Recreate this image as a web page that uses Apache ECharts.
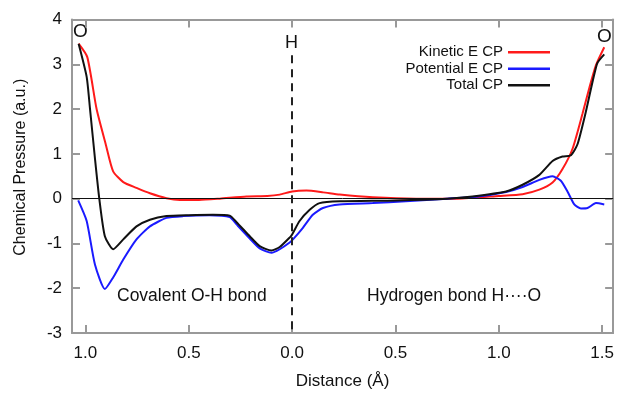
<!DOCTYPE html>
<html>
<head>
<meta charset="utf-8">
<script src="https://cdn.jsdelivr.net/npm/echarts@6/dist/echarts.min.js"></script>
<style>
  html, body { margin: 0; padding: 0; background: #fff; }
  #chart { width: 617px; height: 395px; }
</style>
</head>
<body>
<div id="chart"></div>
<script>
// distance: negative = O-H side (read from O towards H), positive = H...O side
const kineticX = [-1.033, -0.991, -0.946, -0.901, -0.866, -0.817, -0.753, -0.688, -0.608, -0.543, -0.45, -0.35, -0.221, -0.12, -0.06, 0.0, 0.069, 0.15, 0.23, 0.39, 0.6, 0.8, 1.0, 1.115, 1.196, 1.26, 1.308, 1.357, 1.405, 1.437, 1.47, 1.51];
const kineticY = [3.46, 3.16, 2.0, 1.2, 0.61, 0.37, 0.24, 0.12, 0.01, -0.03, -0.03, 0.0, 0.05, 0.06, 0.09, 0.16, 0.18, 0.14, 0.09, 0.03, 0.0, 0.0, 0.06, 0.1, 0.2, 0.36, 0.66, 1.12, 1.9, 2.46, 2.98, 3.38];

const potentialX = [-1.035, -0.994, -0.954, -0.906, -0.866, -0.817, -0.753, -0.688, -0.608, -0.527, -0.4, -0.302, -0.27, -0.205, -0.157, -0.1, -0.06, -0.012, 0.004, 0.052, 0.1, 0.149, 0.229, 0.39, 0.55, 0.75, 0.9, 1.035, 1.115, 1.196, 1.26, 1.3, 1.332, 1.365, 1.397, 1.429, 1.47, 1.51];
const potentialY = [-0.04, -0.5, -1.47, -2.02, -1.76, -1.36, -0.91, -0.62, -0.43, -0.39, -0.37, -0.41, -0.57, -0.89, -1.11, -1.21, -1.13, -0.98, -0.91, -0.65, -0.36, -0.21, -0.13, -0.1, -0.06, 0.0, 0.05, 0.15, 0.26, 0.42, 0.5, 0.4, 0.16, -0.13, -0.22, -0.21, -0.1, -0.13];

const totalX = [-1.033, -0.994, -0.978, -0.954, -0.933, -0.906, -0.866, -0.817, -0.753, -0.688, -0.608, -0.5, -0.383, -0.302, -0.27, -0.205, -0.157, -0.1, -0.06, -0.012, 0.0, 0.036, 0.085, 0.133, 0.23, 0.5, 0.75, 0.873, 1.035, 1.115, 1.196, 1.26, 1.308, 1.349, 1.381, 1.421, 1.475, 1.51];
const totalY = [3.46, 2.72, 2.01, 0.9, 0.0, -0.84, -1.13, -0.91, -0.62, -0.47, -0.39, -0.37, -0.36, -0.38, -0.52, -0.84, -1.06, -1.16, -1.08, -0.87, -0.8, -0.5, -0.25, -0.1, -0.06, -0.04, 0.0, 0.05, 0.16, 0.31, 0.53, 0.84, 0.94, 0.97, 1.22, 1.94, 3.01, 3.22];

const xTicks = [-1.0, -0.5, 0.0, 0.5, 1.0, 1.5];
const seriesNames = ["Kinetic E CP", "Potential E CP", "Total CP"];

function pairs(xs, ys) {
  return xs.map(function (x, i) { return [x, ys[i]]; });
}

const font = "Liberation Sans, Arial, sans-serif";
const boxColor = "#999";

const chart = echarts.init(document.getElementById("chart"));

const option = {
  animation: false,
  textStyle: { fontFamily: font },
  grid: { left: 72, right: 3, top: 19.5, bottom: 62 },
  legend: {
    orient: "vertical",
    align: "right",
    right: 62,
    top: 39,
    icon: "rect",
    itemWidth: 42,
    itemHeight: 2.5,
    itemGap: 0,
    textStyle: { fontSize: 15, color: "#111", fontFamily: font, lineHeight: 16.5 },
    data: seriesNames
  },
  xAxis: [
    {
      type: "value",
      min: -1.065,
      max: 1.553,
      name: "Distance (Å)",
      nameLocation: "middle",
      nameGap: 40,
      nameTextStyle: { fontSize: 17, color: "#111" },
      axisLine: { onZero: false, lineStyle: { color: boxColor, width: 2 } },
      axisTick: { inside: true, length: 8, customValues: xTicks, lineStyle: { color: boxColor, width: 2 } },
      axisLabel: {
        customValues: xTicks,
        fontSize: 17,
        color: "#111",
        margin: 12,
        formatter: function (v) { return Math.abs(v).toFixed(1); }
      },
      splitLine: { show: false }
    },
    {
      type: "value",
      position: "top",
      min: -1.065,
      max: 1.553,
      axisLine: { onZero: false, lineStyle: { color: boxColor, width: 2 } },
      axisTick: { inside: true, length: 8, customValues: xTicks, lineStyle: { color: boxColor, width: 2 } },
      axisLabel: { show: false },
      splitLine: { show: false }
    }
  ],
  yAxis: [
    {
      type: "value",
      min: -3,
      max: 4,
      interval: 1,
      name: "Chemical Pressure (a.u.)",
      nameLocation: "middle",
      nameGap: 43,
      nameTextStyle: { fontSize: 16, color: "#111", padding: [0, 0, 0, 18] },
      axisLine: { show: true, onZero: false, lineStyle: { color: boxColor, width: 2 } },
      axisTick: { show: true, inside: true, length: 8, lineStyle: { color: boxColor, width: 2 } },
      axisLabel: { fontSize: 17, color: "#111", margin: 10 },
      splitLine: { show: false }
    },
    {
      type: "value",
      position: "right",
      min: -3,
      max: 4,
      interval: 1,
      axisLine: { show: true, onZero: false, lineStyle: { color: boxColor, width: 2 } },
      axisTick: { show: true, inside: true, length: 8, lineStyle: { color: boxColor, width: 2 } },
      axisLabel: { show: false },
      splitLine: { show: false }
    }
  ],
  series: [
    {
      name: seriesNames[0],
      type: "line",
      symbol: "none",
      smooth: 0.2,
      color: "#ff1a1a",
      lineStyle: { width: 2, color: "#ff1a1a" },
      data: pairs(kineticX, kineticY),
      z: 3,
      markLine: {
        silent: true,
        symbol: "none",
        label: { show: false },
        lineStyle: { color: "#111", width: 1, type: "solid" },
        data: [{ yAxis: 0 }]
      }
    },
    {
      name: seriesNames[1],
      type: "line",
      symbol: "none",
      smooth: 0.2,
      color: "#1a1aff",
      lineStyle: { width: 2, color: "#1a1aff" },
      data: pairs(potentialX, potentialY),
      z: 3
    },
    {
      name: seriesNames[2],
      type: "line",
      symbol: "none",
      smooth: 0.2,
      color: "#111",
      lineStyle: { width: 2, color: "#111" },
      data: pairs(totalX, totalY),
      z: 4,
      markLine: {
        silent: true,
        symbol: "none",
        label: { show: false },
        lineStyle: { color: "#222", width: 2, type: [8, 6] },
        z: 5,
        data: [[{ coord: [0, 3.2] }, { coord: [0, -3] }]]
      }
    }
  ],
  graphic: [
    { type: "text", left: 285, top: 34, style: { text: "H", font: "18px " + font, fill: "#111" } },
    { type: "text", left: 73, top: 22, style: { text: "O", font: "19px " + font, fill: "#111" } },
    { type: "text", left: 597, top: 27, style: { text: "O", font: "19px " + font, fill: "#111" } },
    { type: "text", left: 117, top: 287, style: { text: "Covalent O-H bond", font: "17.5px " + font, fill: "#111" } },
    { type: "text", left: 367, top: 287, style: { text: "Hydrogen bond H····O", font: "17.5px " + font, fill: "#111" } }
  ]
};

chart.setOption(option);
</script>
</body>
</html>
